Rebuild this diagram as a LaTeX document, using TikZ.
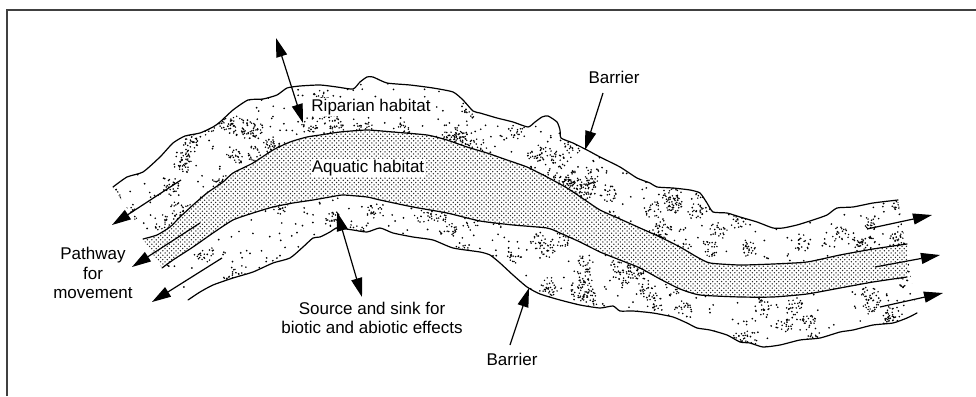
\documentclass[tikz,border=0pt]{standalone}
\usepackage{fontspec}
\setmainfont{Liberation Sans}
\usetikzlibrary{arrows.meta,patterns}
\pgfdeclarepatternformonly{aqdots}{\pgfqpoint{-1pt}{-1pt}}{\pgfqpoint{3.4pt}{3.4pt}}{\pgfqpoint{4.4pt}{4.4pt}}{%
  \pgfpathcircle{\pgfqpoint{0pt}{0pt}}{0.75pt}\pgfpathcircle{\pgfqpoint{2.2pt}{2.2pt}}{0.75pt}\pgfusepath{fill}}
\newcommand\ripdots[5]{\foreach \i in {1,...,#1}{\pgfmathsetmacro\rx{#2+#3*rnd}\pgfmathsetmacro\ry{#4+#5*rnd}\fill (\rx,\ry) circle (0.95pt);}}
\newcommand\ripclumps[5]{\foreach \i in {1,...,#1}{\pgfmathsetmacro\cx{#2+#3*rnd}\pgfmathsetmacro\cy{#4+#5*rnd}\foreach \j in {1,...,22}{\pgfmathsetmacro\aa{360*rnd}\pgfmathsetmacro\rr{9*sqrt(rnd)}\fill ({\cx+\rr*cos(\aa)},{\cy+\rr*sin(\aa)}) circle (0.85pt);}}}
\def\upperouter{(113,187) (127,177) (143,172) (160,157) (173,143) (185,136) (200,133) (213,127) (220,122) (233,110) (248,100) (263,99) (277,95) (287,88) (300,86) (320,85) (337,87) (353,89) (360,82) (367,77) (373,77) (387,83) (410,85) (433,88) (453,92) (463,100) (473,111) (480,113) (497,118) (513,122) (528,127) (535,122) (542,117) (548,116) (557,122) (560,130) (561,138) (573,143) (587,150) (600,157) (620,167) (637,178) (650,183) (657,187) (673,188) (690,190) (700,193) (707,203) (713,212) (727,213) (740,217) (757,222) (773,228) (783,228) (797,225) (813,220) (827,215) (837,208) (853,207) (873,203) (898,200)}
\def\lowerouter{(188,300) (200,292) (213,285) (233,278) (253,272) (273,263) (290,258) (303,247) (313,238) (320,237) (330,232) (337,228) (353,230) (367,232) (380,228) (393,233) (413,237) (433,240) (453,248) (480,252) (490,255) (500,263) (513,275) (527,287) (540,294) (560,300) (580,305) (600,308) (613,306) (620,311) (633,311) (653,313) (673,317) (687,323) (697,328) (710,330) (727,335) (740,342) (750,343) (763,347) (780,345) (800,340) (820,338) (840,332) (853,330) (873,325) (893,323) (907,318) (917,313)}
\def\lowerouterrev{(917,313) (907,318) (893,323) (873,325) (853,330) (840,332) (820,338) (800,340) (780,345) (763,347) (750,343) (740,342) (727,335) (710,330) (697,328) (687,323) (673,317) (653,313) (633,311) (620,311) (613,306) (600,308) (580,305) (560,300) (540,294) (527,287) (513,275) (500,263) (490,255) (480,252) (453,248) (433,240) (413,237) (393,233) (380,228) (367,232) (353,230) (337,228) (330,232) (320,237) (313,238) (303,247) (290,258) (273,263) (253,272) (233,278) (213,285) (200,292) (188,300)}
\def\upperbank{(143,239) (157,235) (170,227) (180,217) (193,205) (207,193) (223,182) (233,173) (253,163) (273,150) (290,142) (307,137) (320,135) (340,132) (367,130) (393,132) (427,135) (447,140) (467,147) (487,153) (507,160) (527,167) (547,177) (567,188) (585,200) (600,210) (620,219) (640,228) (660,237) (680,247) (697,257) (710,263) (740,265) (773,264) (807,262) (840,255) (873,249) (907,244)}
\def\lowerbank{(162,268) (173,260) (193,247) (213,233) (233,220) (253,213) (273,207) (293,203) (313,200) (330,197) (343,195) (367,197) (380,200) (413,207) (447,213) (480,221) (513,225) (547,228) (560,233) (580,242) (600,252) (620,260) (640,268) (660,279) (680,289) (700,295) (740,297) (773,297) (807,294) (840,288) (873,282) (907,277)}
\def\lowerbankrev{(907,277) (873,282) (840,288) (807,294) (773,297) (740,297) (700,295) (680,289) (660,279) (640,268) (620,260) (600,252) (580,242) (560,233) (547,228) (513,225) (480,221) (447,213) (413,207) (380,200) (367,197) (343,195) (330,197) (313,200) (293,203) (273,207) (253,213) (233,220) (213,233) (193,247) (173,260) (162,268)}
\begin{document}
\begin{tikzpicture}[x=1pt,y=-1pt,
  bnd/.style={line width=1.2pt,line join=round,line cap=round},
  arr/.style={line width=1.2pt,-{Triangle[length=19pt,width=11pt]}},
  darr/.style={line width=1.2pt,{Triangle[length=19pt,width=11pt]}-{Triangle[length=19pt,width=11pt]}},
  lab/.style={font=\fontsize{17}{19.5}\selectfont,inner sep=1pt,align=center},
  frame/.style={line width=1.5pt,black!75}]
\useasboundingbox (0,0) rectangle (976,396);
\draw[frame] (7,396) -- (7,10) -- (976,10);
% riparian stipple
\pgfmathsetseed{11}
\begin{scope}
\clip plot[smooth,tension=0.35] coordinates {\upperouter} -- plot[smooth,tension=0.35] coordinates {\lowerouterrev} -- cycle;
\ripdots{330}{105}{225}{80}{225}
\ripdots{480}{330}{320}{72}{246}
\ripdots{300}{650}{272}{185}{165}
\ripclumps{60}{105}{225}{80}{225}
\ripclumps{95}{330}{320}{72}{246}
\ripclumps{60}{650}{272}{185}{165}
\end{scope}
% aquatic band
\fill[white] plot[smooth,tension=0.35] coordinates {\upperbank} -- plot[smooth,tension=0.35] coordinates {\lowerbankrev} -- cycle;
\fill[pattern=aqdots,pattern color=black!85] plot[smooth,tension=0.35] coordinates {\upperbank} -- plot[smooth,tension=0.35] coordinates {\lowerbankrev} -- cycle;
% boundaries
\draw[bnd] plot[smooth,tension=0.35] coordinates {\upperouter};
\draw[bnd] plot[smooth,tension=0.35] coordinates {\lowerouter};
\draw[bnd] plot[smooth,tension=0.35] coordinates {\upperbank};
\draw[bnd] plot[smooth,tension=0.35] coordinates {\lowerbank};
% labels
\node[lab,fill=white] (rip) at (371,107) {Riparian habitat};
\node[lab,fill=white] (aqu) at (368,168) {Aquatic habitat};
\node[lab] (bar1) at (614,77) {Barrier};
\node[lab] (bar2) at (512,359) {Barrier};
\node[lab] (src) at (372,318) {Source and sink for\\biotic and abiotic effects};
\node[lab] (path) at (93,273) {Pathway\\for\\movement};
% arrow end points
\coordinate (ta1) at (276,38); \coordinate (ta2) at (303,123);
\coordinate (sa1) at (337,212); \coordinate (sa2) at (362,297);
\coordinate (b1s) at (603,93); \coordinate (b1e) at (585,150);
\coordinate (b2s) at (510,345); \coordinate (b2e) at (529,288);
\coordinate (la1) at (181,180); \coordinate (la2) at (112,225);
\coordinate (lb1) at (200,223); \coordinate (lb2) at (132,267);
\coordinate (lc1) at (222,258); \coordinate (lc2) at (152,302);
\coordinate (ra1) at (867,229); \coordinate (ra2) at (932,215);
\coordinate (rb1) at (875,267); \coordinate (rb2) at (940,255);
\coordinate (rc1) at (880,307); \coordinate (rc2) at (943,293);
% arrows
\draw[darr] (ta1) -- (ta2);
\draw[darr] (sa1) -- (sa2);
\draw[arr] (b1s) -- (b1e);
\draw[arr] (b2s) -- (b2e);
\draw[arr] (la1) -- (la2);
\draw[arr] (lb1) -- (lb2);
\draw[arr] (lc1) -- (lc2);
\draw[arr] (ra1) -- (ra2);
\draw[arr] (rb1) -- (rb2);
\draw[arr] (rc1) -- (rc2);
\end{tikzpicture}
\end{document}
